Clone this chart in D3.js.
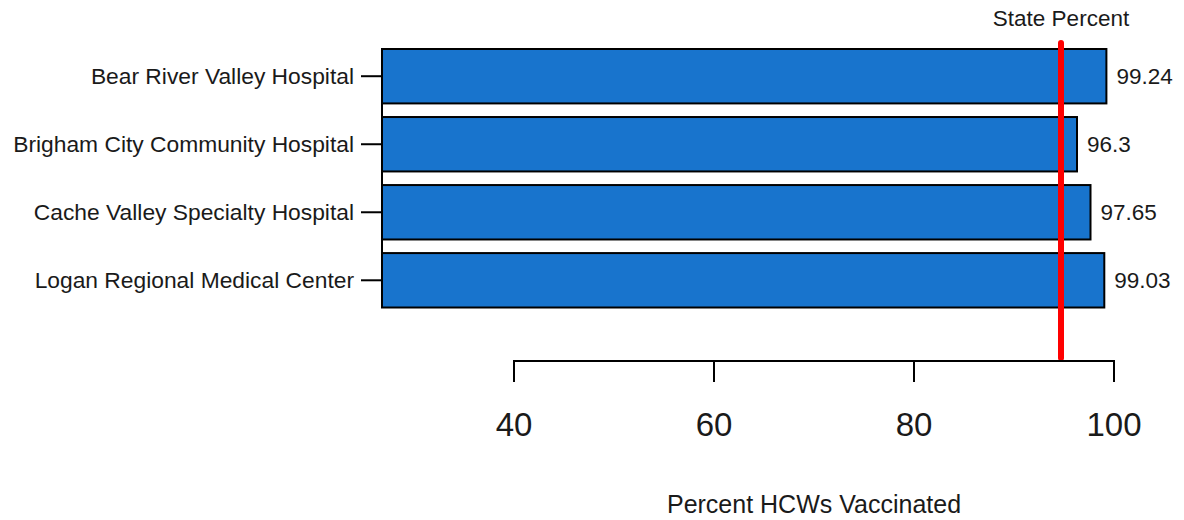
<!DOCTYPE html>
<html>
<head>
<meta charset="utf-8">
<script src="https://cdn.jsdelivr.net/npm/d3@7"></script>
<style>
  html, body { margin: 0; padding: 0; background: #fff; }
  svg { display: block; font-family: "Liberation Sans", Arial, sans-serif; }
</style>
</head>
<body>
<svg id="chart" width="1184" height="520"></svg>
<script>
// ---- data ----
const categories = [
  "Bear River Valley Hospital",
  "Brigham City Community Hospital",
  "Cache Valley Specialty Hospital",
  "Logan Regional Medical Center"
];
const values = [99.24, 96.3, 97.65, 99.03];
const valueLabels = ["99.24", "96.3", "97.65", "99.03"];
const xTicks = [40, 60, 80, 100];
const statePercent = [94.7];
const stateLabel = ["State Percent"];
const xAxisTitle = ["Percent HCWs Vaccinated"];
const axisLowerLimit = 26.8;

// ---- layout ----
const svg = d3.select("#chart");
const x = d3.scaleLinear().domain([40, 100]).range([514, 1114]);
const y = d3.scaleBand().domain(categories).range([49, 307.5]).paddingInner(0.2).paddingOuter(0);
const textColor = "#1a1a1a";
const axisY = 361;
const tickLen = 21;
const plotLeft = x(axisLowerLimit);

// bars
svg.append("g").selectAll("rect")
  .data(categories)
  .join("rect")
  .attr("x", plotLeft)
  .attr("y", d => y(d))
  .attr("width", (d, i) => x(values[i]) - plotLeft)
  .attr("height", y.bandwidth())
  .attr("fill", "#1874CD")
  .attr("stroke", "#000")
  .attr("stroke-width", 2);

// value labels
svg.append("g").selectAll("text")
  .data(categories)
  .join("text")
  .attr("x", (d, i) => x(values[i]) + 10)
  .attr("y", d => y(d) + y.bandwidth() / 2)
  .attr("dy", "0.36em")
  .attr("font-size", 22.5)
  .attr("fill", textColor)
  .text((d, i) => valueLabels[i]);

// y axis (left): line between first and last centers, ticks leftward
const centers = categories.map(c => y(c) + y.bandwidth() / 2);
const gy = svg.append("g");
gy.append("line")
  .attr("x1", plotLeft).attr("x2", plotLeft)
  .attr("y1", centers[0]).attr("y2", centers[centers.length - 1])
  .attr("stroke", "#000").attr("stroke-width", 2);
gy.selectAll("line.tick")
  .data(categories)
  .join("line")
  .attr("class", "tick")
  .attr("x1", plotLeft - tickLen).attr("x2", plotLeft)
  .attr("y1", d => y(d) + y.bandwidth() / 2)
  .attr("y2", d => y(d) + y.bandwidth() / 2)
  .attr("stroke", "#000").attr("stroke-width", 2);
gy.selectAll("text")
  .data(categories)
  .join("text")
  .attr("x", plotLeft - tickLen - 7)
  .attr("y", d => y(d) + y.bandwidth() / 2)
  .attr("dy", "0.36em")
  .attr("text-anchor", "end")
  .attr("font-size", 22.8)
  .attr("fill", textColor)
  .text(d => d);

// state percent line
svg.append("line")
  .attr("x1", x(statePercent[0])).attr("x2", x(statePercent[0]))
  .attr("y1", 43).attr("y2", axisY - 3)
  .attr("stroke", "#FF0000")
  .attr("stroke-width", 6)
  .attr("stroke-linecap", "round");
svg.append("text")
  .attr("x", x(statePercent[0]))
  .attr("y", 26)
  .attr("text-anchor", "middle")
  .attr("font-size", 22.5)
  .attr("fill", textColor)
  .text(stateLabel[0]);

// x axis (bottom)
const gx = svg.append("g");
gx.append("line")
  .attr("x1", x(xTicks[0])).attr("x2", x(xTicks[xTicks.length - 1]))
  .attr("y1", axisY).attr("y2", axisY)
  .attr("stroke", "#000").attr("stroke-width", 2)
  .attr("stroke-linecap", "square");
gx.selectAll("line.tick")
  .data(xTicks)
  .join("line")
  .attr("class", "tick")
  .attr("x1", d => x(d)).attr("x2", d => x(d))
  .attr("y1", axisY).attr("y2", axisY + tickLen)
  .attr("stroke", "#000").attr("stroke-width", 2);
gx.selectAll("text")
  .data(xTicks)
  .join("text")
  .attr("x", d => x(d))
  .attr("y", 436)
  .attr("text-anchor", "middle")
  .attr("font-size", 33)
  .attr("fill", textColor)
  .text(d => d);

svg.append("text")
  .attr("x", 814)
  .attr("y", 513)
  .attr("text-anchor", "middle")
  .attr("font-size", 25)
  .attr("fill", textColor)
  .text(xAxisTitle[0]);
</script>
</body>
</html>
